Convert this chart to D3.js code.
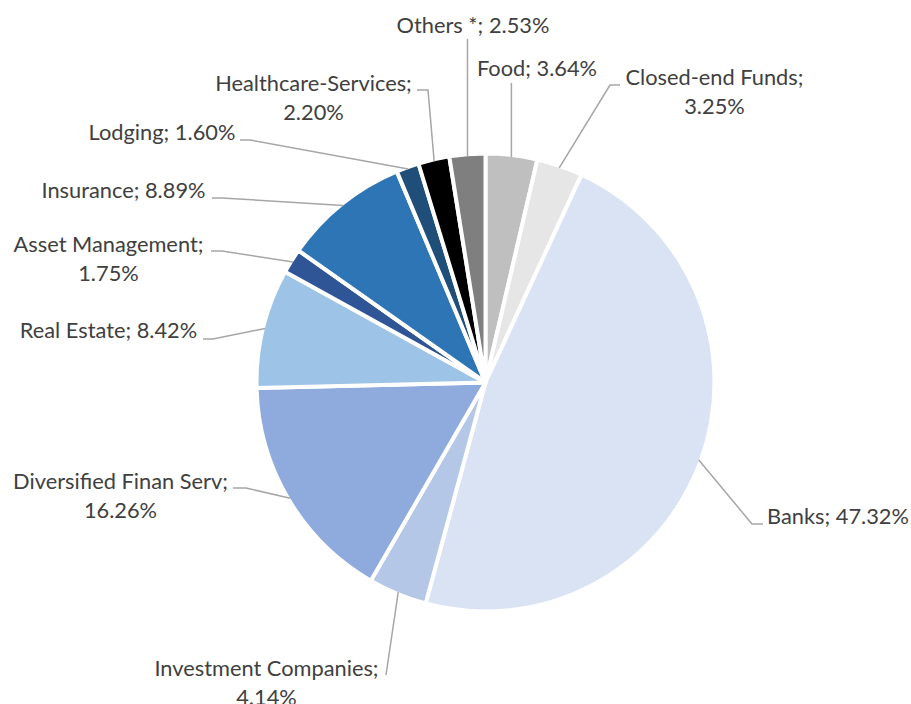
<!DOCTYPE html>
<html>
<head>
<meta charset="utf-8">
<script src="https://cdn.jsdelivr.net/npm/d3@7"></script>
<style>
  html, body { margin: 0; padding: 0; background: #ffffff; }
  svg { display: block; }
</style>
</head>
<body>
<svg id="chart" width="911" height="704"></svg>
<script>
// ---- data ----
const categories = ["Food", "Closed-end Funds", "Banks", "Investment Companies",
  "Diversified Finan Serv", "Real Estate", "Asset Management", "Insurance",
  "Lodging", "Healthcare-Services", "Others *"];
const values = [3.64, 3.25, 47.32, 4.14, 16.26, 8.42, 1.75, 8.89, 1.60, 2.20, 2.53];
const colors = ["#bfbfbf", "#e6e6e6", "#dae3f3", "#b4c7e7", "#8faadc", "#9dc3e6",
  "#2f5597", "#2e75b6", "#1f4e79", "#000000", "#7f7f7f"];

// ---- label layout (x = centre of text, y = first baseline, wrap = split into two lines,
// lead = leader points from label side toward the slice; final point is the slice edge) ----
const labelLayout = {
  "Food":                   { x: 537,   y: 76,  wrap: false, lead: [[512, 83]] },
  "Closed-end Funds":       { x: 714.5, y: 85,  wrap: true,  lead: [[620, 85], [610, 85]] },
  "Banks":                  { x: 838,   y: 524, wrap: false, lead: [[763, 524], [752, 524]] },
  "Investment Companies":   { x: 266.5, y: 676, wrap: true,  lead: [[386, 675]] },
  "Diversified Finan Serv": { x: 120.5, y: 489, wrap: true,  lead: [[233, 488], [246, 488]] },
  "Real Estate":            { x: 108.5, y: 338, wrap: false, lead: [[203, 339], [213, 339]] },
  "Asset Management":       { x: 108.5, y: 252, wrap: true,  lead: [[211, 251], [222, 251]] },
  "Insurance":              { x: 123.5, y: 198, wrap: false, lead: [[212, 198], [222, 198]] },
  "Lodging":                { x: 162,   y: 140, wrap: false, lead: [[240, 140], [250, 140]] },
  "Healthcare-Services":    { x: 313.5, y: 91,  wrap: true,  lead: [[417, 90], [428, 90]] },
  "Others *":               { x: 473,   y: 33,  wrap: false, lead: [[467, 39]] }
};

const cx = 485.5, cy = 382.5, R = 229;
const svg = d3.select("#chart");
const g = svg.append("g").attr("transform", `translate(${cx},${cy})`);

const data = categories.map((c, i) => ({ name: c, value: values[i], color: colors[i] }));
const pie = d3.pie().sort(null).value(d => d.value).startAngle(0).endAngle(2 * Math.PI);
const arcs = pie(data);
const arc = d3.arc().innerRadius(0).outerRadius(R);

g.selectAll("path.slice").data(arcs).enter().append("path")
  .attr("class", "slice")
  .attr("d", arc)
  .attr("fill", d => d.data.color)
  .attr("stroke", "#ffffff")
  .attr("stroke-width", 4)
  .attr("stroke-linejoin", "round");

// leader lines
const line = d3.line();
arcs.forEach(a => {
  const L = labelLayout[a.data.name];
  const mid = (a.startAngle + a.endAngle) / 2;
  const rr = R - 2;
  const ex = cx + rr * Math.sin(mid), ey = cy - rr * Math.cos(mid);
  let pts = L.lead.map(p => p.slice());
  if (L.lead.length === 1 && (a.data.name === "Food" || a.data.name === "Others *")) {
    pts = [[ex, L.lead[0][1]]];
  }
  pts.push([ex, ey]);
  svg.append("path")
    .attr("d", line(pts))
    .attr("fill", "none")
    .attr("stroke", "#a6a6a6")
    .attr("stroke-width", 1.5);
});

// labels
arcs.forEach(a => {
  const L = labelLayout[a.data.name];
  const pct = a.data.value.toFixed(2) + "%";
  const lines = L.wrap ? [a.data.name + ";", pct] : [a.data.name + "; " + pct];
  const t = svg.append("text")
    .attr("x", L.x).attr("y", L.y)
    .attr("text-anchor", "middle")
    .attr("font-family", "Lato, 'Noto Sans', sans-serif")
    .attr("font-size", "21.8px")
    .attr("fill", "#404040");
  lines.forEach((s, i) => {
    t.append("tspan").attr("x", L.x).attr("y", L.y + i * 29).text(s);
  });
});
</script>
</body>
</html>
